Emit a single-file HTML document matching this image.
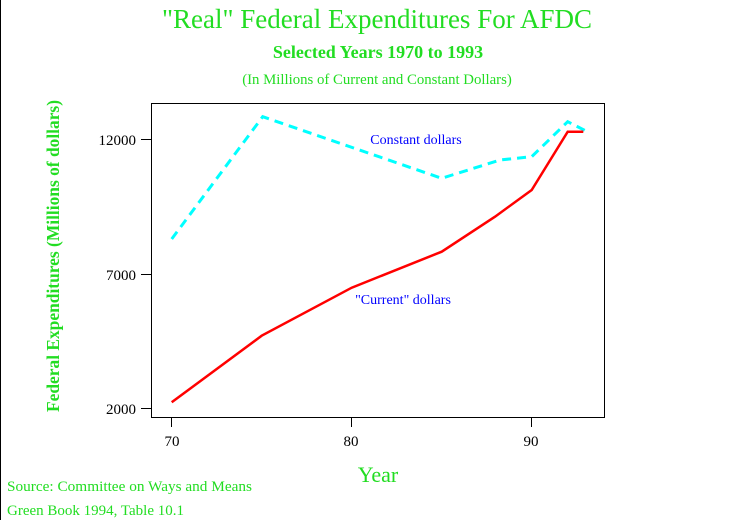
<!DOCTYPE html>
<html><head><style>
body{margin:0;background:#fff;}
svg{display:block;font-family:"Liberation Serif",serif;}
</style></head><body>
<svg width="756" height="520" viewBox="0 0 756 520">
<line x1="0.5" y1="0" x2="0.5" y2="520" stroke="#000"/>
<text x="377" y="28" font-size="27" fill="#22dd22" text-anchor="middle">"Real" Federal Expenditures For AFDC</text>
<text x="378" y="58" font-size="18" font-weight="bold" fill="#22dd22" text-anchor="middle">Selected Years 1970 to 1993</text>
<text x="377" y="84" font-size="14.8" fill="#22dd22" text-anchor="middle">(In Millions of Current and Constant Dollars)</text>
<rect x="151.5" y="103.5" width="453" height="314" fill="none" stroke="#000"/>
<g stroke="#000">
<line x1="141" y1="139.5" x2="151" y2="139.5"/>
<line x1="141" y1="274.5" x2="151" y2="274.5"/>
<line x1="141" y1="408.5" x2="151" y2="408.5"/>
<line x1="171.5" y1="418" x2="171.5" y2="427"/>
<line x1="351.5" y1="418" x2="351.5" y2="427"/>
<line x1="531.5" y1="418" x2="531.5" y2="427"/>
</g>
<g font-size="15" fill="#000" text-anchor="end">
<text x="136" y="145">12000</text>
<text x="136" y="280">7000</text>
<text x="136" y="414">2000</text>
</g>
<g font-size="15" fill="#000" text-anchor="middle">
<text x="172" y="446">70</text>
<text x="351" y="446">80</text>
<text x="531" y="446">90</text>
</g>
<text x="378" y="482" font-size="22" fill="#22dd22" text-anchor="middle">Year</text>
<text transform="translate(59,256) rotate(-90)" font-size="18" font-weight="bold" fill="#22dd22" text-anchor="middle" textLength="312" lengthAdjust="spacingAndGlyphs">Federal Expenditures (Millions of dollars)</text>
<polyline points="171.7,239 262.7,116.7 441.7,178.3 500,160 531.7,156.7 567.7,121.7 586,131" fill="none" stroke="#00ffff" stroke-width="3" stroke-dasharray="9,6"/>
<polyline points="171.7,402.3 261.7,335.7 351.7,287.7 441.7,251.7 495,216.7 531.7,190 567.7,131.7 583.3,131.7" fill="none" stroke="#ff0000" stroke-width="2.5"/>
<text x="416" y="144" font-size="14" fill="#0000ff" text-anchor="middle">Constant dollars</text>
<text x="403" y="304" font-size="14" fill="#0000ff" text-anchor="middle">"Current" dollars</text>
<text x="7" y="491" font-size="15" fill="#22dd22" textLength="245" lengthAdjust="spacingAndGlyphs">Source: Committee on Ways and Means</text>
<text x="7" y="515" font-size="15" fill="#22dd22">Green Book 1994, Table 10.1</text>
</svg>
</body></html>
